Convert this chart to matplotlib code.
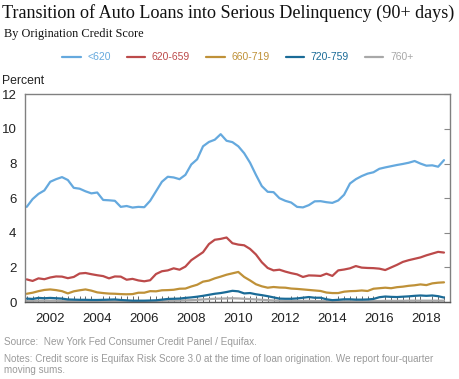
import numpy as np
import matplotlib.pyplot as plt
from matplotlib.ticker import MultipleLocator

# Quarterly data, 2001Q1 - 2018Q4 (percent, four-quarter moving sums)
START_YEAR = 2001
SERIES_NAMES = ['<620', '620-659', '660-719', '720-759', '760+']
COLORS = ['#65A9DE', '#BC4A4A', '#BF9138', '#1A6B97', '#A8A8A8']

below_620 = [5.5, 5.95, 6.25, 6.45, 6.95, 7.1, 7.22, 7.05, 6.6, 6.55, 6.4, 6.28,
             6.33, 5.9, 5.88, 5.85, 5.5, 5.55, 5.46, 5.5, 5.48, 5.85, 6.4, 6.95,
             7.24, 7.2, 7.1, 7.35, 7.95, 8.25, 9.0, 9.25, 9.38, 9.7, 9.32, 9.24,
             9.0, 8.6, 8.05, 7.35, 6.7, 6.37, 6.35, 6.0, 5.85, 5.75, 5.5, 5.47,
             5.6, 5.82, 5.83, 5.77, 5.73, 5.87, 6.2, 6.85, 7.1, 7.28, 7.42, 7.5,
             7.7, 7.78, 7.85, 7.92, 7.98, 8.05, 8.15, 8.0, 7.88, 7.9, 7.82, 8.2]
s620_659 = [1.31, 1.22, 1.37, 1.32, 1.42, 1.48, 1.47, 1.38, 1.45, 1.65, 1.68, 1.61,
            1.55, 1.5, 1.37, 1.48, 1.47, 1.29, 1.34, 1.25, 1.2, 1.26, 1.62, 1.78,
            1.83, 1.95, 1.87, 2.05, 2.42, 2.65, 2.88, 3.35, 3.6, 3.65, 3.73, 3.4,
            3.32, 3.28, 3.07, 2.75, 2.3, 1.97, 1.83, 1.87, 1.76, 1.67, 1.6, 1.45,
            1.54, 1.53, 1.51, 1.64, 1.51, 1.83, 1.88, 1.95, 2.08, 1.99, 1.97, 1.96,
            1.93, 1.85, 2.0, 2.15, 2.32, 2.42, 2.5, 2.58, 2.7, 2.8, 2.9, 2.86]
s660_719 = [0.48, 0.54, 0.63, 0.7, 0.73, 0.69, 0.63, 0.5, 0.62, 0.68, 0.73, 0.66,
            0.56, 0.52, 0.49, 0.48, 0.46, 0.45, 0.46, 0.54, 0.54, 0.63, 0.62, 0.68,
            0.69, 0.71, 0.77, 0.78, 0.9, 1.0, 1.18, 1.24, 1.37, 1.47, 1.58, 1.66,
            1.74, 1.45, 1.25, 1.03, 0.91, 0.83, 0.87, 0.84, 0.83, 0.78, 0.76, 0.73,
            0.7, 0.67, 0.64, 0.55, 0.52, 0.52, 0.6, 0.63, 0.64, 0.67, 0.64, 0.77,
            0.8, 0.83, 0.8, 0.86, 0.89, 0.94, 0.97, 1.02, 0.98, 1.08, 1.12, 1.14]
s720_759 = [0.2, 0.18, 0.24, 0.22, 0.24, 0.22, 0.2, 0.15, 0.14, 0.13, 0.13, 0.12,
            0.12, 0.13, 0.14, 0.15, 0.12, 0.1, 0.08, 0.08, 0.08, 0.09, 0.1, 0.14,
            0.18, 0.19, 0.2, 0.24, 0.27, 0.31, 0.36, 0.42, 0.48, 0.52, 0.58, 0.65,
            0.62, 0.5, 0.52, 0.45, 0.4, 0.34, 0.27, 0.2, 0.19, 0.19, 0.21, 0.25,
            0.29, 0.25, 0.25, 0.16, 0.11, 0.13, 0.16, 0.16, 0.14, 0.14, 0.15, 0.18,
            0.28, 0.32, 0.3, 0.29, 0.31, 0.33, 0.36, 0.38, 0.36, 0.38, 0.34, 0.26]
s760_plus = [0.07, 0.07, 0.08, 0.08, 0.08, 0.08, 0.07, 0.06, 0.06, 0.06, 0.06, 0.06,
             0.06, 0.06, 0.06, 0.06, 0.05, 0.05, 0.05, 0.05, 0.05, 0.05, 0.06, 0.07,
             0.08, 0.08, 0.09, 0.1, 0.11, 0.13, 0.15, 0.17, 0.19, 0.2, 0.21, 0.22,
             0.21, 0.19, 0.17, 0.15, 0.13, 0.11, 0.09, 0.08, 0.07, 0.07, 0.07, 0.07,
             0.07, 0.06, 0.06, 0.05, 0.05, 0.05, 0.05, 0.05, 0.05, 0.05, 0.05, 0.06,
             0.06, 0.07, 0.07, 0.07, 0.07, 0.08, 0.08, 0.08, 0.08, 0.08, 0.08, 0.08]

series = [below_620, s620_659, s660_719, s720_759, s760_plus]
x = START_YEAR + np.arange(len(below_620)) * 0.25

plt.rcParams['font.family'] = ['Liberation Sans', 'DejaVu Sans']

fig = plt.figure(figsize=(4.6, 3.79), dpi=100)
ax = fig.add_axes([0.054, 0.203, 0.924, 0.548])

# draw the light series first so the darker ones sit on top
for name, vals, col in reversed(list(zip(SERIES_NAMES, series, COLORS))):
    ax.plot(x, vals, color=col, lw=1.6, label=name, solid_capstyle='round')

ax.set_xlim(2000.92, 2019.0)
ax.set_ylim(0, 12)
ax.set_yticks(range(0, 13, 2))
ax.set_xticks(range(2002, 2019, 2))
ax.xaxis.set_minor_locator(MultipleLocator(0.25))

ax.tick_params(axis='y', left=False, right=True, labelleft=True, direction='in',
               length=4, color='#888888', labelsize=9.5, pad=6, labelcolor='#222222')
ax.tick_params(axis='x', which='both', direction='in', bottom=True, color='#666666',
               labelsize=9.5, labelcolor='#222222', pad=8)
ax.tick_params(axis='x', which='major', length=0)
ax.tick_params(axis='x', which='minor', length=4, width=0.7)
for sp in ax.spines.values():
    sp.set_color('#808080')
    sp.set_linewidth(1.0)
ax.spines['bottom'].set_color('#555555')

# legend with coloured text
handles, labels = ax.get_legend_handles_labels()
leg = fig.legend(handles[::-1], labels[::-1], loc='center', bbox_to_anchor=(0.517, 0.849),
                 ncol=5, frameon=False, fontsize=7.5, handlelength=1.75,
                 columnspacing=1.55, handletextpad=0.65)
for txt, col in zip(leg.get_texts(), COLORS):
    txt.set_color(col)

fig.text(0.004, 0.965, 'Transition of Auto Loans into Serious Delinquency (90+ days)',
         family='Liberation Serif', fontsize=13.1, va='center', ha='left', color='#111111')
fig.text(0.008, 0.91, 'By Origination Credit Score', family='Liberation Serif',
         fontsize=8.8, va='center', ha='left', color='#111111')
fig.text(0.004, 0.785, 'Percent', fontsize=8.8, va='center', ha='left', color='#222222')

fig.text(0.008, 0.097, 'Source:  New York Fed Consumer Credit Panel / Equifax.',
         fontsize=7.2, color='#9a9a9a', va='center', ha='left')
fig.text(0.008, 0.053, 'Notes: Credit score is Equifax Risk Score 3.0 at the time of loan '
         'origination. We report four-quarter', fontsize=7.15, color='#9a9a9a',
         va='center', ha='left')
fig.text(0.008, 0.024, 'moving sums.', fontsize=7.15, color='#9a9a9a', va='center', ha='left')

fig.savefig('out.png', dpi=100)
